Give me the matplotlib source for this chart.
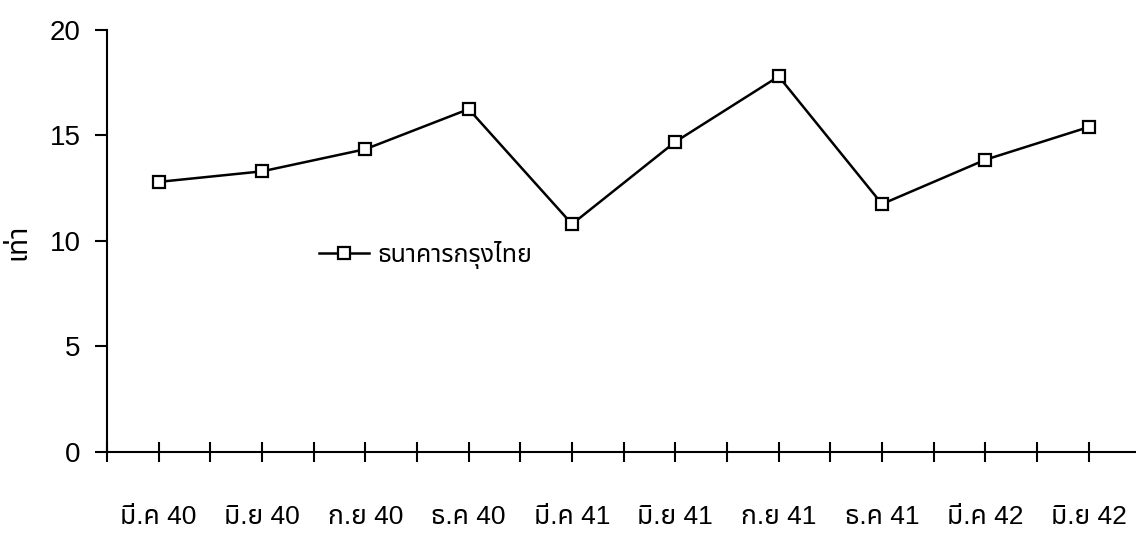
import matplotlib
matplotlib.use("Agg")
import numpy as np
import matplotlib.pyplot as plt
from matplotlib.ticker import FixedLocator

plt.rcParams['font.family'] = ['Liberation Sans', 'Noto Sans Thai', 'DejaVu Sans']

periods = ["มี.ค 40", "มิ.ย 40", "ก.ย 40", "ธ.ค 40", "มี.ค 41",
           "มิ.ย 41", "ก.ย 41", "ธ.ค 41", "มี.ค 42", "มิ.ย 42"]
ktb_ratio = [12.8, 13.3, 14.35, 16.25, 10.8, 14.7, 17.8, 11.75, 13.85, 15.4]
series_name = "ธนาคารกรุงไทย"
y_label = "เท่า"
y_ticks = [0, 5, 10, 15, 20]

fig = plt.figure(figsize=(11.36, 5.47), dpi=100)
ax = fig.add_axes([0.0942, 0.1737, 0.906, 0.7715])

x = np.arange(len(periods))
ax.plot(x, ktb_ratio, color="black", linewidth=1.8, marker="s", markersize=9,
        markerfacecolor="white", markeredgecolor="black", markeredgewidth=1.6,
        label=series_name)

ax.set_xlim(-0.5, 9.46)
ax.set_ylim(0, 20)
ax.set_yticks(y_ticks)
ax.set_xticks(x)
ax.set_xticklabels(periods)
ax.xaxis.set_minor_locator(FixedLocator(np.arange(-0.5, 9.0, 1.0)))

for s in ["top", "right"]:
    ax.spines[s].set_visible(False)
ax.spines["left"].set_linewidth(1.5)
ax.spines["bottom"].set_linewidth(1.5)

ax.tick_params(axis="x", which="both", direction="inout", length=15, width=1.5)
ax.tick_params(axis="x", which="major", labelsize=19, pad=31)
ax.tick_params(axis="y", direction="out", length=9, width=1.5, labelsize=20, pad=10)

fig.text(18 / 1136, 1 - 242 / 547, y_label, rotation=90, ha="center", va="center", fontsize=20)

leg = ax.legend(loc="center left", bbox_to_anchor=(0.196, 0.467), frameon=False,
                fontsize=18, handlelength=2.0, handletextpad=0.35, borderaxespad=0)

fig.savefig("out.png", dpi=100)
plt.close(fig)
